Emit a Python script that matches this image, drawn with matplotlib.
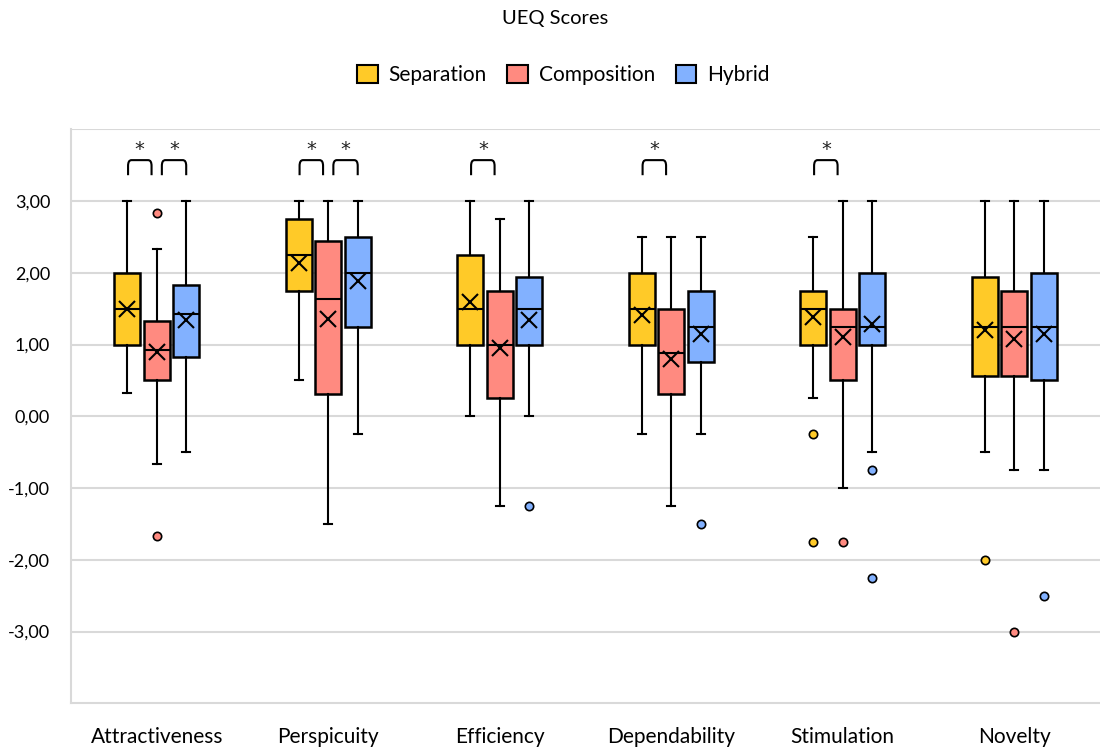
import numpy as np
import matplotlib
matplotlib.use("Agg")
import matplotlib.pyplot as plt
import matplotlib.patches as mpatches
from matplotlib.path import Path as MPath

plt.rcParams['font.family'] = ['Lato', 'DejaVu Sans']

# ---- data ----
categories = ['Attractiveness', 'Perspicuity', 'Efficiency', 'Dependability', 'Stimulation', 'Novelty']
series = ['Separation', 'Composition', 'Hybrid']
colors = ['#FFCA28', '#FF8A80', '#82B1FF']

sep_whislo = [0.33, 0.5, 0.0, -0.25, 0.25, -0.5]
sep_q1 = [1.0, 1.75, 1.0, 1.0, 1.0, 0.56]
sep_med = [1.5, 2.25, 1.5, 1.5, 1.5, 1.25]
sep_q3 = [2.0, 2.75, 2.25, 2.0, 1.75, 1.94]
sep_whishi = [3.0, 3.0, 3.0, 2.5, 2.5, 3.0]
sep_mean = [1.5, 2.13, 1.59, 1.41, 1.38, 1.2]
sep_fliers = [[], [], [], [], [-0.25, -1.75], [-2.0]]

comp_whislo = [-0.67, -1.5, -1.25, -1.25, -1.0, -0.75]
comp_q1 = [0.5, 0.31, 0.25, 0.31, 0.5, 0.56]
comp_med = [0.92, 1.63, 1.0, 0.88, 1.25, 1.25]
comp_q3 = [1.33, 2.44, 1.75, 1.5, 1.5, 1.75]
comp_whishi = [2.33, 3.0, 2.75, 2.5, 3.0, 3.0]
comp_mean = [0.9, 1.36, 0.95, 0.8, 1.1, 1.08]
comp_fliers = [[2.83, -1.67], [], [], [], [-1.75], [-3.0]]

hyb_whislo = [-0.5, -0.25, 0.0, -0.25, -0.5, -0.75]
hyb_q1 = [0.83, 1.25, 1.0, 0.75, 1.0, 0.5]
hyb_med = [1.42, 2.0, 1.5, 1.25, 1.25, 1.25]
hyb_q3 = [1.83, 2.5, 1.94, 1.75, 2.0, 2.0]
hyb_whishi = [3.0, 3.0, 3.0, 2.5, 3.0, 3.0]
hyb_mean = [1.34, 1.88, 1.34, 1.14, 1.29, 1.15]
hyb_fliers = [[], [], [-1.25], [-1.5], [-0.75, -2.25], [-2.5]]

# significant pairs: (category, left series, right series)
sig_pairs = [(0, 0, 1), (0, 1, 2), (1, 0, 1), (1, 1, 2), (2, 0, 1), (3, 0, 1), (4, 0, 1)]

yticks = [-3, -2, -1, 0, 1, 2, 3]

all_stats = [
    (sep_whislo, sep_q1, sep_med, sep_q3, sep_whishi, sep_mean, sep_fliers),
    (comp_whislo, comp_q1, comp_med, comp_q3, comp_whishi, comp_mean, comp_fliers),
    (hyb_whislo, hyb_q1, hyb_med, hyb_q3, hyb_whishi, hyb_mean, hyb_fliers),
]

fig = plt.figure(figsize=(11, 7.49), dpi=100)
ax = fig.add_axes([0.0645, 0.061, 0.9355, 0.7664])

offsets = [-0.172, 0.0, 0.172]
centers = np.arange(len(categories))

for s, (wlo, q1, med, q3, whi, mean, fl) in enumerate(all_stats):
    stats = []
    for i in range(len(categories)):
        stats.append(dict(whislo=wlo[i], q1=q1[i], med=med[i], q3=q3[i],
                          whishi=whi[i], mean=mean[i], fliers=fl[i]))
    ax.bxp(stats, positions=centers + offsets[s], widths=0.15, capwidths=0.045,
           patch_artist=True, showmeans=True, manage_ticks=False,
           boxprops=dict(facecolor=colors[s], edgecolor='black', linewidth=1.8),
           medianprops=dict(color='black', linewidth=1.5),
           whiskerprops=dict(color='black', linewidth=1.5),
           capprops=dict(color='black', linewidth=1.5),
           meanprops=dict(marker='x', markeredgecolor='black', markersize=11,
                          markeredgewidth=1.5),
           flierprops=dict(marker='o', markerfacecolor=colors[s],
                           markeredgecolor='black', markersize=6, markeredgewidth=1.2),
           zorder=3)

# significance brackets
y_bot, y_top, rx, ry = 3.36, 3.57, 0.02, 0.08
for c, a, b in sig_pairs:
    x0 = centers[c] + offsets[a] + 0.005
    x1 = centers[c] + offsets[b] - 0.03
    if a == 1:
        x0 = centers[c] + offsets[a] + 0.03
        x1 = centers[c] + offsets[b]
    verts = [(x0, y_bot), (x0, y_top - ry), (x0, y_top), (x0 + rx, y_top),
             (x1 - rx, y_top), (x1, y_top), (x1, y_top - ry), (x1, y_bot)]
    codes = [MPath.MOVETO, MPath.LINETO, MPath.CURVE3, MPath.CURVE3,
             MPath.LINETO, MPath.CURVE3, MPath.CURVE3, MPath.LINETO]
    ax.add_patch(mpatches.PathPatch(MPath(verts, codes), fill=False,
                                    edgecolor='black', linewidth=1.5))
    ax.text((x0 + x1) / 2, 3.72, '*', ha='center', va='center', fontsize=14,
            family='DejaVu Sans', color='#222222')

ax.set_xlim(-0.5, len(categories) - 0.5)
ax.set_ylim(-4, 4)
ax.set_yticks(yticks)
ax.set_yticklabels([f"{v:.2f}".replace('.', ',') for v in yticks], fontsize=13)
ax.set_xticks(centers)
ax.set_xticklabels(categories, fontsize=15)
ax.tick_params(length=0)
ax.tick_params(axis='y', pad=15)
ax.tick_params(axis='x', pad=17)
for v in yticks + [4]:
    ax.axhline(v, color='#d9d9d9', linewidth=1.5, zorder=0)
for side in ['top', 'right']:
    ax.spines[side].set_visible(False)
for side in ['left', 'bottom']:
    ax.spines[side].set_color('#d9d9d9')
    ax.spines[side].set_linewidth(1.5)

handles = [mpatches.Patch(facecolor=colors[i], edgecolor='black', linewidth=1.5, label=series[i])
           for i in range(3)]
fig.legend(handles=handles, loc='center', bbox_to_anchor=(0.512, 0.9), ncol=3,
           frameon=False, fontsize=15, handlelength=1.0, handleheight=1.0,
           handletextpad=0.5, columnspacing=1.0)
fig.text(0.505, 0.975, 'UEQ Scores', ha='center', va='center', fontsize=14.5)

fig.savefig('out.png', dpi=100)
